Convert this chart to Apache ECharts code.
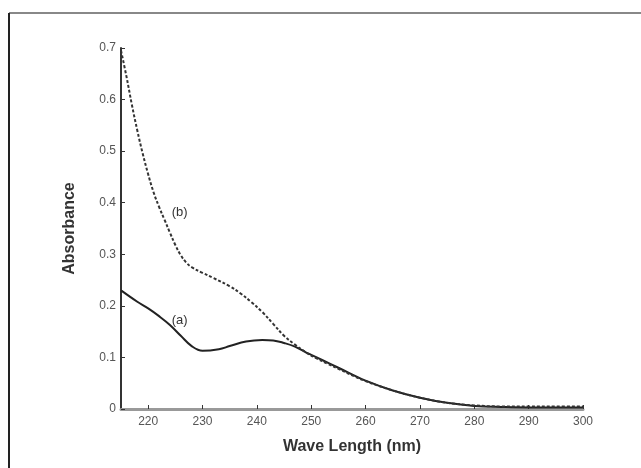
<!DOCTYPE html>
<html>
<head>
<meta charset="utf-8">
<script src="https://cdn.jsdelivr.net/npm/echarts@6/dist/echarts.min.js"></script>
<style>html,body{margin:0;padding:0;background:#fff}#c{width:641px;height:468px}</style>
</head>
<body>
<div id="c"></div>
<script>
// Wavelength (nm) and absorbance
const wlA = [215,218,220,222,224,226,228,230,233,235,238,241,243,245,247,249,250,252,255,260,265,270,275,280,285,290,295,300];
const absA = [0.230,0.208,0.195,0.180,0.163,0.142,0.122,0.113,0.116,0.122,0.131,0.134,0.133,0.128,0.121,0.110,0.105,0.095,0.080,0.055,0.036,0.022,0.012,0.006,0.004,0.003,0.003,0.003];
const wlB = [215,216,217,218,219,220,221,222,223,224,225,226,227,228,230,232,235,237,239,241,243,245,247,249,251,253,255,258,260,265,270,275,280,285,290,295,300];
const absB = [0.695,0.645,0.590,0.540,0.495,0.455,0.420,0.392,0.367,0.342,0.318,0.298,0.284,0.275,0.264,0.254,0.238,0.224,0.207,0.188,0.165,0.142,0.125,0.110,0.098,0.088,0.078,0.063,0.054,0.036,0.022,0.012,0.007,0.005,0.005,0.005,0.005];
const xTicks = [220,230,240,250,260,270,280,290,300];
const yTicks = [0,0.1,0.2,0.3,0.4,0.5,0.6,0.7];
const labelA = {text:'(a)', wl:225.8, abs:0.172};
const labelB = {text:'(b)', wl:225.8, abs:0.382};

const chart = echarts.init(document.getElementById('c'), null, {renderer:'canvas'});
const font = 'Liberation Sans, Arial, sans-serif';
function annot(l){
  return {symbol:'circle', symbolSize:1, itemStyle:{color:'rgba(0,0,0,0)'},
    data:[{coord:[l.wl, l.abs], value:l.text}],
    label:{show:true, formatter:l.text, fontFamily:font, fontSize:13, color:'#333', position:'inside'}};
}
chart.setOption({
  backgroundColor:'#fff',
  animation:false,
  grid:{left:121, right:58, top:48, bottom:59},
  xAxis:{
    type:'value', min:215, max:300,
    name:'Wave Length (nm)', nameLocation:'middle', nameGap:30,
    nameTextStyle:{fontFamily:font, fontWeight:'bold', fontSize:16, color:'#333'},
    axisLine:{show:true, lineStyle:{color:'#999', width:3}},
    axisTick:{show:true, inside:true, length:4, customValues:xTicks, lineStyle:{color:'#333', width:1}},
    axisLabel:{customValues:xTicks, fontFamily:font, fontSize:12, color:'#555', margin:7},
    splitLine:{show:false}
  },
  yAxis:{
    type:'value', min:0, max:0.7, interval:0.1,
    name:'Absorbance', nameLocation:'middle', nameGap:43,
    nameTextStyle:{fontFamily:font, fontWeight:'bold', fontSize:16, color:'#333'},
    axisLine:{show:true, lineStyle:{color:'#333', width:2}},
    axisTick:{show:true, inside:true, length:4, lineStyle:{color:'#333', width:1}},
    axisLabel:{fontFamily:font, fontSize:12, color:'#555', margin:5,
      formatter:function(v){ var r = Math.round(v*10)/10; return yTicks.indexOf(r) >= 0 ? String(r) : ''; }},
    splitLine:{show:false}
  },
  graphic:[
    {type:'line', shape:{x1:9, y1:13, x2:641, y2:13}, style:{stroke:'#888', lineWidth:2}},
    {type:'line', shape:{x1:9, y1:13, x2:9, y2:468}, style:{stroke:'#222', lineWidth:2}}
  ],
  series:[
    {
      type:'line', name:'(a)', smooth:0.4, symbol:'none',
      data: wlA.map((w,i)=>[w, absA[i]]),
      lineStyle:{color:'#222', width:2},
      markPoint: annot(labelA)
    },
    {
      type:'line', name:'(b)', smooth:0.4, symbol:'none',
      data: wlB.map((w,i)=>[w, absB[i]]),
      lineStyle:{color:'#333', width:2, type:[3,2]},
      markPoint: annot(labelB)
    }
  ]
});
</script>
</body>
</html>
